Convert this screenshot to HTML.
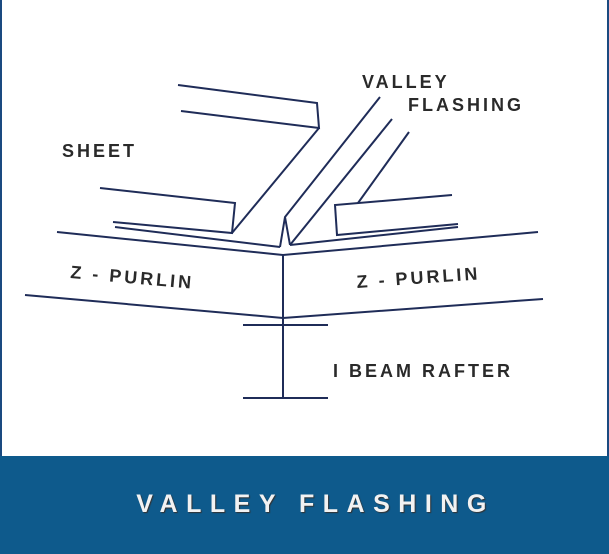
<!DOCTYPE html>
<html><head><meta charset="utf-8"><style>
body{margin:0;width:609px;height:554px;overflow:hidden;background:#fff;font-family:"Liberation Sans",sans-serif}
.wrap{position:absolute;left:0;top:0;width:609px;height:554px;box-sizing:border-box;border-left:2px solid #1a4a80;border-right:2px solid #1a4a80}
.band{position:absolute;left:0;top:456px;width:609px;height:98px;background:#0e5a8c}
.t{position:absolute;left:0;width:609px;top:490px;text-align:center;color:#f2f2f2;font-weight:bold;font-size:25px;letter-spacing:8.5px;text-indent:22px;text-shadow:1px 1px 1px #333}
svg{position:absolute;left:0;top:0}
</style></head><body>
<div class="wrap"></div>
<svg width="609" height="456" viewBox="0 0 609 456">
<g stroke="#1f2c58" stroke-width="2" fill="none" stroke-linejoin="miter">
<polyline points="178,85 317,103 319,128 181,111"/>
<line x1="319" y1="128" x2="232" y2="233"/>
<polyline points="100,188 235,203 232,233 113,222"/>
<line x1="115" y1="227" x2="280" y2="247"/>
<polyline points="380,97 285,217 280,247"/>
<line x1="285" y1="217" x2="290" y2="245"/>
<line x1="392" y1="119" x2="290" y2="245"/>
<line x1="409" y1="132" x2="358" y2="203"/>
<polyline points="452,195 335,205 337,235 458,224"/>
<line x1="458" y1="227" x2="290" y2="245"/>
<polyline points="57,232 283,255 538,232"/>
<line x1="283" y1="255" x2="283" y2="398"/>
<polyline points="25,295 283,318 543,299"/>
<line x1="243" y1="325" x2="328" y2="325"/>
<line x1="243" y1="398" x2="328" y2="398"/>
</g>
<g fill="#2a2a2a" font-family="Liberation Sans, sans-serif" font-weight="bold" font-size="18" letter-spacing="3">
<text x="62" y="157">SHEET</text>
<text x="362" y="88">VALLEY</text>
<text x="408" y="111">FLASHING</text>
<text x="70" y="278" transform="rotate(5 70 278)">Z - PURLIN</text>
<text x="357" y="288" transform="rotate(-4 357 288)">Z - PURLIN</text>
<text x="333" y="377">I BEAM RAFTER</text>
</g>
</svg>
<div class="band"></div>
<div class="t">VALLEY FLASHING</div>
</body></html>
